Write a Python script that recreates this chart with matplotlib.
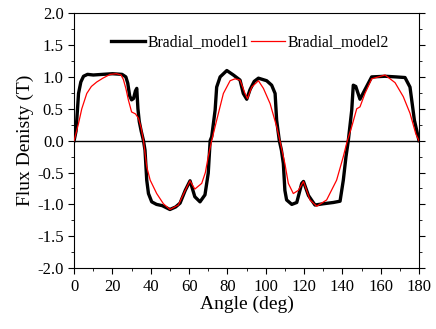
import numpy as np
import matplotlib
matplotlib.use("Agg")
import matplotlib.pyplot as plt
from matplotlib.ticker import MultipleLocator

plt.rcParams['font.family'] = ['Liberation Serif', 'DejaVu Serif']
plt.rcParams['axes.unicode_minus'] = False

# Bradial_model1 (black)
ang1 = [0, 1, 2.3, 3.5, 4.9, 7, 10, 15, 20, 25, 27, 28, 29, 30, 31, 32, 32.7, 33.3, 34, 35,
        36.2, 37, 37.9, 38.8, 40.5, 43, 46, 50, 53, 55.3, 58, 60.5, 63, 65.7, 68.3, 70, 71,
        71.8, 73.6, 74.4, 76.2, 79.7, 83.1, 86.6, 88.3, 90.1, 91.8, 94, 96.2, 100.5, 103.1,
        104.9, 105.7, 107.1, 108.2, 109.2, 110, 110.9, 113.6, 116.2, 118.8, 119.7, 122.3,
        125.7, 130.1, 135.3, 138.8, 140.5, 141.9, 143.1, 144.9, 145.7, 147, 149.2, 151.8,
        155.3, 162.3, 168, 172.7, 175.3, 177.6, 180]
b1 = [0, 0.15, 0.74, 0.92, 1.01, 1.04, 1.03, 1.04, 1.05, 1.04, 1.0, 0.9, 0.7, 0.64, 0.66,
      0.78, 0.82, 0.5, 0.3, 0.15, 0.0, -0.15, -0.62, -0.83, -0.96, -1.0, -1.02, -1.08,
      -1.04, -0.98, -0.78, -0.63, -0.88, -0.96, -0.85, -0.51, 0.0, 0.06, 0.48, 0.84, 1.0,
      1.1, 1.03, 0.95, 0.74, 0.65, 0.8, 0.93, 0.98, 0.94, 0.87, 0.74, 0.32, 0.0, -0.15,
      -0.36, -0.78, -0.93, -1.0, -0.97, -0.67, -0.64, -0.86, -1.01, -0.99, -0.97, -0.95,
      -0.62, -0.25, 0.0, 0.48, 0.87, 0.85, 0.65, 0.8, 1.0, 1.01, 1.0, 0.99, 0.84, 0.32, 0]

# Bradial_model2 (red)
ang2 = [0, 2.3, 4, 6.6, 9, 11.8, 15, 18.8, 22, 24.5, 25.7, 27, 28.3, 30, 32, 33.6, 35, 36.2,
        37.9, 39.7, 43.1, 46.6, 50, 54.4, 58, 60.5, 63, 66.6, 68.5, 70, 71.8, 74.4, 77.9,
        81.4, 84, 86.6, 89.2, 90.5, 92.7, 96.2, 98.8, 102.3, 105.7, 107.4, 110, 111.8, 114.4,
        117, 119.7, 123.1, 126.6, 131.8, 137, 140.5, 142.6, 144.9, 147.5, 149.2, 151.8,
        155.3, 162.3, 167.5, 171.8, 175.3, 178.4, 180]
b2 = [0, 0.27, 0.5, 0.74, 0.85, 0.92, 0.98, 1.04, 1.05, 1.03, 0.96, 0.82, 0.64, 0.45, 0.42,
      0.35, 0.2, 0.0, -0.41, -0.62, -0.83, -0.99, -1.08, -1.01, -0.78, -0.63, -0.76, -0.67,
      -0.5, -0.25, 0.0, 0.32, 0.74, 0.94, 0.97, 0.95, 0.74, 0.66, 0.84, 0.94, 0.82, 0.58,
      0.22, 0.0, -0.36, -0.67, -0.83, -0.78, -0.64, -0.93, -1.03, -0.93, -0.62, -0.25, 0.0,
      0.22, 0.5, 0.53, 0.74, 0.97, 1.03, 0.91, 0.69, 0.43, 0.1, 0]

fig = plt.figure(figsize=(4.36, 3.29), dpi=100)
ax = fig.add_axes([0.170, 0.185, 0.791, 0.775])

ax.axhline(0, color='black', lw=1.0, zorder=1)
ax.plot(ang1, b1, color='black', lw=2.4, label='Bradial_model1', zorder=2)
ax.plot(ang2, b2, color='red', lw=0.9, label='Bradial_model2', zorder=3)

ax.set_xlim(0, 180)
ax.set_ylim(-2.0, 2.0)
ax.xaxis.set_major_locator(MultipleLocator(20))
ax.xaxis.set_minor_locator(MultipleLocator(10))
ax.yaxis.set_major_locator(MultipleLocator(0.5))
ax.yaxis.set_minor_locator(MultipleLocator(0.25))
ax.yaxis.set_major_formatter(matplotlib.ticker.FormatStrFormatter('%.1f'))
ax.tick_params(which='major', direction='out', length=4, width=0.8, labelsize=12,
               right=True, top=False)
ax.tick_params(which='minor', direction='out', length=2.5, width=0.6,
               right=True, top=False)

ax.set_xlabel('Angle (deg)', fontsize=14, labelpad=1)
ax.set_ylabel('Flux Denisty (T)', fontsize=14, labelpad=2)

ax.legend(loc='center', bbox_to_anchor=(0.51, 0.886), ncol=2, frameon=False,
          fontsize=11.3, handlelength=2.2, columnspacing=0.1, handletextpad=0.15,
          borderaxespad=0)

fig.savefig('out.png', dpi=100)
